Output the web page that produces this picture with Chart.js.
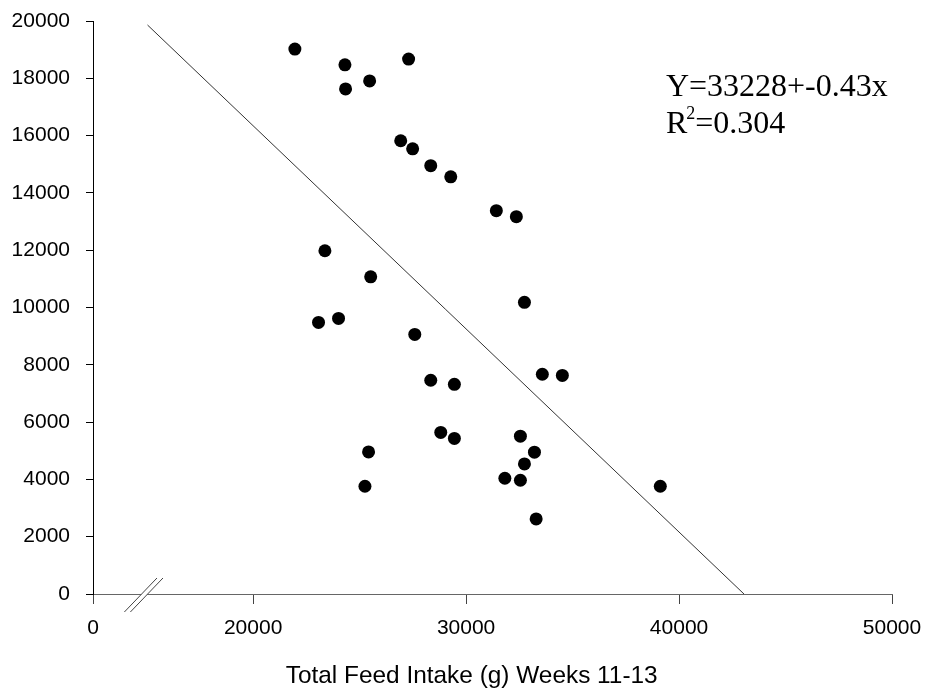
<!DOCTYPE html>
<html>
<head>
<meta charset="utf-8">
<script src="https://cdn.jsdelivr.net/npm/chart.js@4.4.1/dist/chart.umd.min.js"></script>
<style>
  html, body { margin: 0; padding: 0; background: #fff; }
  #wrap { width: 926px; height: 693px; position: relative; }
</style>
</head>
<body>
<div id="wrap"><canvas id="feedChart"></canvas></div>
<script>
// valores
const feedIntake = [
  21960, 24310, 24340, 25470, 27300, 26930, 27490, 28340, 29280, 31420, 32360,
  23370, 25520, 32740, 23070, 24010, 27590, 28340, 29450, 33580, 34520,
  25420, 28810, 29450, 32550, 33210, 32740, 25250, 31820, 32550, 33290, 39120
];
const gainValues = [
  19020, 18470, 17630, 17910, 18670, 15820, 15540, 14950, 14560, 13380, 13170,
  11980, 11070, 10180, 9480, 9620, 9060, 7460, 7320, 7670, 7630,
  4960, 5640, 5430, 5510, 4950, 4540, 3760, 4040, 3970, 2620, 3760
];
// recta de regresion tal como esta dibujada
const fitX = [15040, 43050];
const fitY = [19860, 0];

const xAxisStart = 12480;   // se rotula "0" (eje cortado)
const xAxisBreak = 14860;   // donde va la marca //
const xTicks = [20000, 30000, 40000, 50000];
const yTickStep = 2000;

const eqLine1 = 'Y=33228+-0.43x';
const eqLine2 = ['R', '2', '=0.304'];
const xTitle = 'Total Feed Intake (g) Weeks 11-13';

const sans = '"Liberation Sans", Arial, sans-serif';
const serif = '"Liberation Serif", "Times New Roman", serif';

// sin relleno automatico por las etiquetas: el area la fija layout.padding
function noLabelPadding(scale) {
  scale.paddingTop = 0;
  scale.paddingBottom = 0;
  scale.paddingLeft = 0;
  scale.paddingRight = 0;
}

// marcas de corte del eje x y textos
const extrasPlugin = {
  id: 'extras',
  afterDraw(chart) {
    const ctx = chart.ctx;
    const xs = chart.scales.x;
    const area = chart.chartArea;

    // corte //
    const cx = xs.getPixelForValue(xAxisBreak);
    const cy = area.bottom + 1;
    const dx = 16.3, dy = 17, gap = 3;
    ctx.save();
    ctx.fillStyle = '#fff';
    ctx.beginPath();
    ctx.moveTo(cx - gap - dx, cy + dy);
    ctx.lineTo(cx - gap + dx, cy - dy);
    ctx.lineTo(cx + gap + dx, cy - dy);
    ctx.lineTo(cx + gap - dx, cy + dy);
    ctx.closePath();
    ctx.fill();
    ctx.strokeStyle = '#444';
    ctx.lineWidth = 1;
    [-gap, gap].forEach(off => {
      ctx.beginPath();
      ctx.moveTo(cx + off - dx, cy + dy);
      ctx.lineTo(cx + off + dx, cy - dy);
      ctx.stroke();
    });

    // titulo del eje x
    ctx.fillStyle = '#000';
    ctx.textBaseline = 'alphabetic';
    ctx.textAlign = 'center';
    ctx.font = '24.4px ' + sans;
    ctx.fillText(xTitle, area.left + (area.right - area.left) * 0.474, chart.height - 10);

    // ecuacion
    const ex = area.left + (area.right - area.left) * 0.717;
    const ey1 = area.top + 75;
    const ey2 = ey1 + 36.7;
    ctx.textAlign = 'left';
    ctx.font = '32px ' + serif;
    ctx.fillText(eqLine1, ex, ey1);
    ctx.fillText(eqLine2[0], ex, ey2);
    let w = ctx.measureText(eqLine2[0]).width;
    ctx.font = '18px ' + serif;
    ctx.fillText(eqLine2[1], ex + w - 1, ey2 - 13.5);
    w += ctx.measureText(eqLine2[1]).width;
    ctx.font = '32px ' + serif;
    ctx.fillText(eqLine2[2], ex + w - 1, ey2);
    ctx.restore();
  }
};

const ctx = document.getElementById('feedChart');
new Chart(ctx, {
  data: {
    datasets: [
      {
        type: 'scatter',
        data: feedIntake.map((x, i) => ({ x: x, y: gainValues[i] })),
        backgroundColor: '#000',
        borderColor: '#000',
        pointRadius: 6.5,
        pointBorderWidth: 0,
        pointHoverRadius: 6.5
      },
      {
        type: 'scatter',
        showLine: true,
        data: fitX.map((x, i) => ({ x: x, y: fitY[i] })),
        borderColor: '#333',
        borderWidth: 1,
        pointRadius: 0,
        pointHoverRadius: 0
      }
    ]
  },
  options: {
    responsive: true,
    maintainAspectRatio: false,
    animation: false,
    events: [],
    layout: { padding: { top: 21, right: 34, left: 0, bottom: 0 } },
    plugins: {
      legend: { display: false },
      tooltip: { enabled: false }
    },
    scales: {
      x: {
        type: 'linear',
        min: xAxisStart,
        max: 50000,
        afterBuildTicks: scale => {
          scale.ticks = [xAxisStart].concat(xTicks).map(v => ({ value: v }));
        },
        afterFit: scale => { scale.height = 99; noLabelPadding(scale); },
        ticks: {
          autoSkip: false,
          maxRotation: 0,
          color: '#000',
          padding: 12,
          font: { family: sans, size: 21 },
          callback: v => (v === xAxisStart ? '0' : String(v))
        },
        grid: { drawOnChartArea: false, tickLength: 10, color: '#444' },
        border: { color: '#666', width: 1 }
      },
      y: {
        min: 0,
        max: 20000,
        afterFit: scale => { scale.width = 93; noLabelPadding(scale); },
        ticks: {
          stepSize: yTickStep,
          color: '#000',
          padding: 16,
          font: { family: sans, size: 21 },
          callback: v => String(v)
        },
        grid: { drawOnChartArea: false, tickLength: 7, color: '#000' },
        border: { color: '#000', width: 1 }
      }
    }
  },
  plugins: [extrasPlugin]
});
</script>
</body>
</html>
